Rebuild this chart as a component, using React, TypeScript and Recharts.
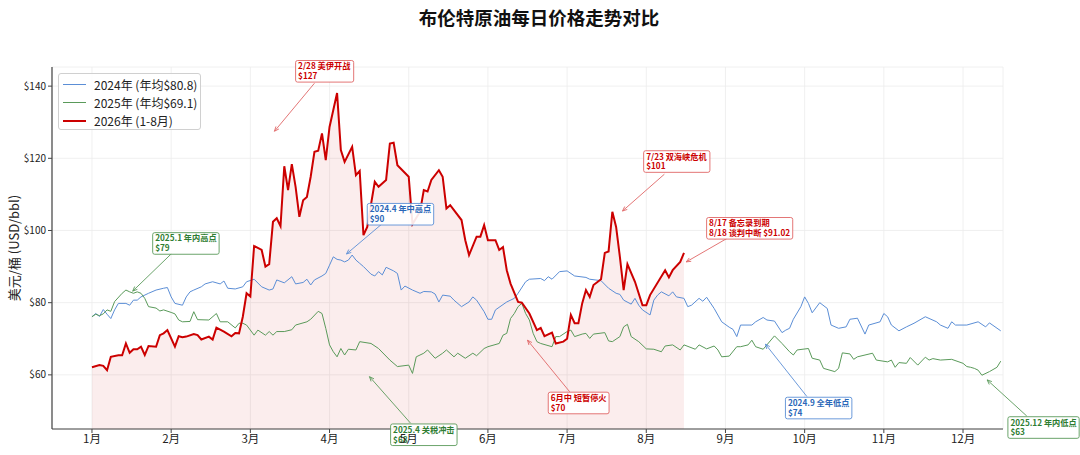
import React, { useLayoutEffect, useRef, useState } from 'react';
import {
  Area,
  CartesianGrid,
  ComposedChart,
  Line,
  ReferenceDot,
  ReferenceLine,
  XAxis,
  YAxis,
} from 'recharts';

// trading-day index (21 per month) and Brent close
const days2024 = [
  0, 1, 2, 3, 4, 5, 6, 7, 9, 10, 11, 12, 13, 15, 17, 19, 20, 21, 22, 24, 25, 26, 27, 29, 30, 32, 34, 35, 36, 38,
  40, 41, 43, 45, 47, 48, 49, 51, 53, 54, 56, 57, 58, 59, 61, 62, 63, 64, 65, 66, 67, 68, 69, 70, 71, 72, 74, 75,
  76, 77, 78, 80, 81, 82, 83, 85, 87, 88, 90, 91, 92, 93, 95, 96, 98, 100, 101, 102, 104, 105, 106, 107, 110, 112,
  113, 115, 116, 119, 120, 121, 122, 124, 126, 128, 131, 132, 135, 137, 139, 140, 141, 143, 144, 145, 146, 148,
  149, 150, 151, 153, 154, 155, 157, 158, 159, 161, 162, 163, 165, 167, 169, 170, 171, 172, 175, 176, 178, 179,
  181, 183, 184, 185, 186, 188, 189, 190, 191, 193, 195, 196, 198, 200, 201, 203, 205, 206, 209, 210, 211, 212,
  214, 216, 218, 221, 224, 225, 227, 228, 229, 232, 235, 237, 238, 241,
];
const prices2024 = [
  76.1, 77.0, 76.2, 78.1, 76.8, 75.6, 78.0, 79.8, 79.8, 79.3, 80.7, 80.7, 81.6, 82.6, 83.5, 84.0, 84.2, 81.6, 79.8,
  79.3, 81.6, 83.0, 83.5, 84.4, 85.2, 85.8, 85.2, 86.0, 84.0, 83.8, 84.4, 85.8, 86.5, 84.4, 83.5, 83.8, 86.3, 85.5,
  87.2, 85.2, 85.6, 86.5, 84.9, 86.3, 87.4, 88.1, 90.4, 92.7, 92.0, 91.8, 91.3, 91.8, 93.2, 91.8, 90.9, 90.0, 87.9,
  87.4, 88.6, 87.7, 89.8, 88.8, 88.1, 83.5, 84.6, 83.5, 82.6, 83.1, 83.0, 82.4, 80.2, 82.1, 81.8, 80.7, 78.9, 80.2,
  81.6, 80.7, 77.5, 75.4, 75.4, 78.0, 80.2, 81.2, 82.6, 85.8, 86.5, 86.7, 86.1, 87.2, 86.5, 88.6, 88.8, 87.4, 87.0,
  86.5, 86.1, 84.0, 82.6, 82.3, 80.7, 79.6, 81.2, 79.3, 78.0, 76.6, 80.7, 82.1, 83.0, 81.9, 83.0, 81.6, 81.2, 78.9,
  79.3, 81.2, 80.4, 81.5, 78.4, 74.7, 73.2, 72.6, 70.6, 73.8, 73.8, 74.7, 75.9, 75.2, 74.9, 71.7, 72.4, 72.9, 75.4,
  78.9, 81.6, 79.8, 77.2, 80.0, 78.4, 73.8, 72.9, 73.3, 75.4, 75.7, 71.3, 73.8, 74.7, 77.0, 76.1, 73.8, 72.2, 73.3,
  74.3, 76.1, 74.7, 73.8, 72.9, 74.7, 73.8, 73.8, 74.7, 73.3, 74.4, 72.2,
];

const days2025 = [
  0, 1, 2, 3, 4, 5, 6, 8, 9, 10, 11, 12, 13, 14, 15, 17, 18, 19, 21, 22, 23, 24, 26, 27, 28, 31, 33, 34, 36, 38, 39,
  40, 41, 43, 44, 46, 47, 48, 49, 51, 53, 54, 57, 58, 60, 61, 62, 63, 64, 65, 66, 67, 68, 70, 71, 74, 76, 79, 81,
  84, 85, 86, 88, 89, 91, 93, 94, 96, 97, 99, 101, 102, 104, 105, 108, 109, 110, 111, 112, 113, 114, 115, 116,
  117, 118, 119, 122, 123, 124, 126, 127, 128, 130, 131, 132, 133, 136, 137, 138, 140, 141, 142, 143, 145, 147,
  149, 151, 152, 154, 156, 157, 160, 161, 163, 165, 166, 167, 169, 171, 172, 174, 175, 176, 178, 181, 183, 185,
  186, 187, 190, 191, 193, 194, 197, 198, 199, 201, 202, 203, 207, 208, 211, 212, 213, 214, 216, 217, 219, 221,
  222, 223, 225, 228, 231, 232, 233, 234, 235, 236, 238, 240, 241,
];
const prices2025 = [
  76.1, 76.8, 76.4, 76.9, 78.0, 77.6, 80.3, 82.6, 83.5, 83.0, 82.6, 83.0, 82.6, 81.2, 78.9, 78.5, 77.7, 78.0, 77.3,
  76.9, 75.2, 74.7, 74.8, 77.5, 75.3, 75.2, 77.0, 74.7, 74.7, 73.0, 74.3, 74.3, 73.8, 71.0, 72.4, 71.0, 72.0, 71.0,
  72.0, 72.0, 72.5, 73.8, 74.7, 75.4, 77.6, 77.0, 72.9, 68.3, 66.4, 65.0, 67.3, 65.5, 67.1, 66.9, 69.2, 68.7, 67.3,
  64.1, 62.3, 62.7, 60.4, 65.0, 66.0, 66.9, 64.6, 66.0, 66.9, 65.0, 66.0, 64.6, 66.0, 65.3, 67.3, 67.8, 68.7, 71.0,
  71.5, 75.6, 77.0, 78.9, 79.8, 77.0, 75.2, 71.5, 69.2, 68.7, 67.8, 70.6, 70.6, 72.0, 72.4, 70.6, 71.3, 71.5, 70.1,
  71.3, 71.7, 69.4, 69.2, 70.6, 73.3, 74.0, 70.6, 69.2, 67.2, 67.1, 66.4, 68.0, 68.3, 66.9, 68.3, 67.1, 68.3, 67.2,
  68.0, 66.9, 65.0, 65.2, 67.8, 67.8, 68.3, 69.6, 67.8, 67.1, 70.8, 68.7, 66.4, 65.5, 66.9, 67.3, 64.6, 64.1, 61.8,
  60.9, 61.8, 66.1, 65.8, 64.3, 65.0, 66.0, 64.1, 63.6, 64.1, 62.1, 63.4, 63.2, 64.8, 62.7, 64.9, 64.1, 64.5, 64.1,
  64.3, 63.2, 62.3, 62.1, 61.8, 61.3, 59.9, 60.9, 62.1, 63.8,
];

const days2026 = [
  0, 2, 3, 4, 5, 7, 8, 9, 10, 11, 12, 13, 14, 15, 17, 18, 19, 20, 22, 23, 24, 25, 27, 28, 29, 31, 32, 33, 35, 37,
  38, 39, 40, 41, 42, 43, 45, 46, 47, 48, 49, 50, 51, 52, 53, 54, 55, 56, 57, 58, 59, 60, 61, 62, 63, 64, 65, 66,
  67, 69, 70, 71, 72, 73, 75, 76, 78, 79, 80, 81, 84, 85, 87, 88, 89, 90, 92, 93, 94, 95, 98, 99, 100, 102, 103,
  104, 105, 107, 108, 109, 110, 111, 113, 114, 116, 118, 119, 120, 122, 123, 125, 126, 127, 128, 129, 130, 131,
  132, 133, 135, 136, 137, 138, 139, 140, 141, 142, 144, 146, 147, 148, 152, 153, 154, 156, 157,
];
const prices2026 = [
  62.1, 62.7, 62.5, 61.3, 65.0, 65.4, 65.4, 68.7, 66.1, 67.1, 67.1, 67.8, 65.5, 68.0, 67.8, 71.0, 71.5, 72.4, 67.8,
  70.7, 70.4, 70.6, 71.3, 71.0, 69.8, 70.6, 69.8, 73.1, 72.0, 70.7, 71.6, 71.5, 76.1, 82.6, 81.7, 95.7, 94.6, 90.0,
  90.7, 102.4, 103.4, 101.2, 117.8, 111.2, 118.4, 112.1, 103.8, 108.4, 109.3, 114.9, 121.8, 122.1, 126.9, 119.5,
  128.7, 133.4, 138.1, 122.3, 119.0, 123.2, 115.3, 116.5, 98.7, 101.0, 113.5, 112.1, 114.0, 124.1, 124.3, 118.1,
  114.9, 101.8, 105.2, 111.2, 110.8, 114.0, 116.7, 114.9, 106.1, 107.0, 102.9, 97.3, 93.2, 98.3, 98.3, 101.5, 97.3,
  97.3, 94.6, 95.4, 89.0, 85.3, 80.2, 80.0, 77.0, 72.4, 73.0, 70.7, 71.7, 68.7, 69.2, 70.0, 76.6, 74.3, 74.3, 79.8,
  83.5, 81.6, 84.9, 86.5, 93.8, 94.2, 105.2, 101.0, 92.7, 83.5, 90.7, 85.8, 79.3, 79.3, 82.1, 89.0, 87.0, 89.0,
  91.3, 93.8,
];

const monthLabels = ['1月', '2月', '3月', '4月', '5月', '6月', '7月', '8月', '9月', '10月', '11月', '12月'];
const monthTicks = monthLabels.map((_, i) => i * 21);
const priceTicks = [60, 80, 100, 120, 140];

const seriesNames = ['2024年 (年均$80.8)', '2025年 (年均$69.1)', '2026年 (1-8月)'];

const RED = '#cc0000';
const BLUE = '#5b8ed6';
const GREEN = '#5a9a5a';
const FONT = '"Noto Sans CJK SC", "DejaVu Sans", sans-serif';

const toRows = (days: number[], prices: number[]) => days.map((day, i) => ({ day, price: prices[i] }));
const data2024 = toRows(days2024, prices2024);
const data2025 = toRows(days2025, prices2025);
const data2026 = toRows(days2026, prices2026);

// annotation boxes: top-left of box, arrow tail and arrow head, all in (day, price)
const notes = [
  { lines: ['2/28 美伊开战', '$127'], text: RED, edge: '#e06666', box: [54, 147.1], tail: [59, 140.8], head: [48.4, 127.5] },
  { lines: ['2024.4 年中高点', '$90'], text: '#2a67b8', edge: BLUE, box: [73, 107.5], tail: [77, 101.9], head: [67.5, 93.5] },
  { lines: ['2025.1 年内高点', '$79'], text: '#2e7d32', edge: GREEN, box: [16.1, 99.4], tail: [21.2, 93.7], head: [10.8, 83.2] },
  { lines: ['7/23 双海峡危机', '$101'], text: RED, edge: '#e06666', box: [146.3, 122.1], tail: [151.8, 115.6], head: [140.7, 105.4] },
  { lines: ['8/17 备忘录到期', '8/18 谈判中断 $91.02'], text: RED, edge: '#e06666', box: [163, 103.6], tail: [168.4, 97.8], head: [157.6, 91.3] },
  { lines: ['6月中 短暂停火', '$70'], text: RED, edge: '#e06666', box: [121, 55.2], tail: [126.7, 55.3], head: [115.5, 69.6] },
  { lines: ['2024.9 全年低点', '$74'], text: '#2a67b8', edge: BLUE, box: [183.9, 53.8], tail: [189.6, 54.0], head: [178.6, 68.5] },
  { lines: ['2025.4 关税冲击', '$68'], text: '#2e7d32', edge: GREEN, box: [79.2, 46.4], tail: [84.5, 46.6], head: [73.6, 59.5] },
  { lines: ['2025.12 年内低点', '$63'], text: '#2e7d32', edge: GREEN, box: [242.9, 48.4], tail: [247.9, 48.6], head: [237.4, 58.6] },
];

const NoteBox = ({ cx, cy, lines, text, edge }: any) => {
  const ref = useRef<SVGTextElement>(null);
  const [w, setW] = useState(0);
  useLayoutEffect(() => {
    if (ref.current) setW(ref.current.getBBox().width);
  }, []);
  return (
    <g>
      <rect
        x={cx}
        y={cy}
        width={w + 5}
        height={lines.length * 9.8 + 2}
        rx={2}
        fill="#fff"
        fillOpacity={0.9}
        stroke={edge}
        strokeWidth={0.9}
      />
      <text ref={ref} x={cx + 2.5} y={cy} fill={text} fontSize={8.2} fontWeight={700} fontFamily={FONT}>
        {lines.map((l: string, i: number) => (
          <tspan key={i} x={cx + 2.5} dy={i === 0 ? 8.8 : 9.8}>
            {l}
          </tspan>
        ))}
      </text>
    </g>
  );
};

const Arrow = ({ x1, y1, x2, y2, color }: any) => {
  const a = Math.atan2(y2 - y1, x2 - x1);
  const s = 5;
  const left = [x2 - s * Math.cos(a - 0.4), y2 - s * Math.sin(a - 0.4)];
  const right = [x2 - s * Math.cos(a + 0.4), y2 - s * Math.sin(a + 0.4)];
  return (
    <g>
      <line x1={x1} y1={y1} x2={x2} y2={y2} stroke={color} strokeWidth={0.9} />
      <polyline
        points={`${left[0]},${left[1]} ${x2},${y2} ${right[0]},${right[1]}`}
        fill="none"
        stroke={color}
        strokeWidth={0.9}
      />
    </g>
  );
};

const Legend = () => {
  const colors = [BLUE, GREEN, RED];
  return (
    <div
      style={{
        position: 'absolute',
        left: 58,
        top: 73,
        height: 57,
        border: '1px solid #d0d0d0',
        borderRadius: 3,
        background: 'rgba(255,255,255,0.85)',
        boxSizing: 'border-box',
        padding: '1px 3px 0 4px',
        whiteSpace: 'nowrap',
      }}
    >
      {seriesNames.map((name, i) => (
        <div key={name} style={{ display: 'flex', alignItems: 'center', height: 18.3, fontSize: 12, color: '#222' }}>
          <div style={{ width: 23, height: 0, borderTop: `${i === 2 ? 2 : 1}px solid ${colors[i]}`, marginRight: 8 }} />
          <span>{name}</span>
        </div>
      ))}
    </div>
  );
};

export default function App() {
  return (
    <div style={{ position: 'absolute', left: 0, top: 0, width: 1080, height: 455, background: '#fff', fontFamily: FONT }}>
      <div
        style={{
          position: 'absolute',
          left: 0,
          top: 5,
          width: 1078,
          textAlign: 'center',
          fontSize: 18.5,
          fontWeight: 700,
          color: '#111',
          lineHeight: '24px',
        }}
      >
        布伦特原油每日价格走势对比
      </div>
      <div
        style={{
          position: 'absolute',
          left: 13,
          top: 248,
          transform: 'translate(-50%, -50%) rotate(-90deg)',
          whiteSpace: 'nowrap',
          fontSize: 13,
          color: '#222',
        }}
      >
        美元/桶 (USD/bbl)
      </div>
      <ComposedChart width={1080} height={455} margin={{ top: 67, right: 77, bottom: 0, left: 0 }}>
        <CartesianGrid stroke="#ececec" strokeWidth={0.8} />
        <XAxis
          type="number"
          dataKey="day"
          domain={[-10.6, 241.6]}
          allowDataOverflow
          ticks={monthTicks}
          tickFormatter={(v: number) => monthLabels[Math.round(v / 21)]}
          height={26}
          interval={0}
          axisLine={{ stroke: '#444', strokeWidth: 1.2 }}
          tickLine={{ stroke: '#444' }}
          tickSize={4}
          tickMargin={2}
          tick={{ fontSize: 11.5, fill: '#222' }}
        />
        <YAxis
          type="number"
          domain={[45, 145.3]}
          allowDataOverflow
          ticks={priceTicks}
          tickFormatter={(v: number) => `$${v}`}
          width={52}
          axisLine={{ stroke: '#444', strokeWidth: 1.2 }}
          tickLine={{ stroke: '#444' }}
          tickSize={4}
          tickMargin={2}
          tick={{ fontSize: 10, fill: '#222' }}
        />
        <Area
          data={data2026}
          dataKey="price"
          type="linear"
          baseValue={45}
          stroke="none"
          fill={RED}
          fillOpacity={0.07}
          isAnimationActive={false}
        />
        <Line data={data2024} dataKey="price" type="linear" stroke={BLUE} strokeWidth={1} dot={false} activeDot={false} isAnimationActive={false} />
        <Line data={data2025} dataKey="price" type="linear" stroke={GREEN} strokeWidth={1} dot={false} activeDot={false} isAnimationActive={false} />
        <Line data={data2026} dataKey="price" type="linear" stroke={RED} strokeWidth={2} dot={false} activeDot={false} isAnimationActive={false} />
        {notes.map((n, i) => (
          <ReferenceLine
            key={`a${i}`}
            segment={[
              { x: n.tail[0], y: n.tail[1] },
              { x: n.head[0], y: n.head[1] },
            ]}
            ifOverflow="visible"
            shape={(p: any) => <Arrow x1={p.x1} y1={p.y1} x2={p.x2} y2={p.y2} color={n.edge} />}
          />
        ))}
        {notes.map((n, i) => (
          <ReferenceDot
            key={`b${i}`}
            x={n.box[0]}
            y={n.box[1]}
            r={0}
            ifOverflow="visible"
            shape={(p: any) => <NoteBox cx={p.cx} cy={p.cy} lines={n.lines} text={n.text} edge={n.edge} />}
          />
        ))}
      </ComposedChart>
      <Legend />
    </div>
  );
}
